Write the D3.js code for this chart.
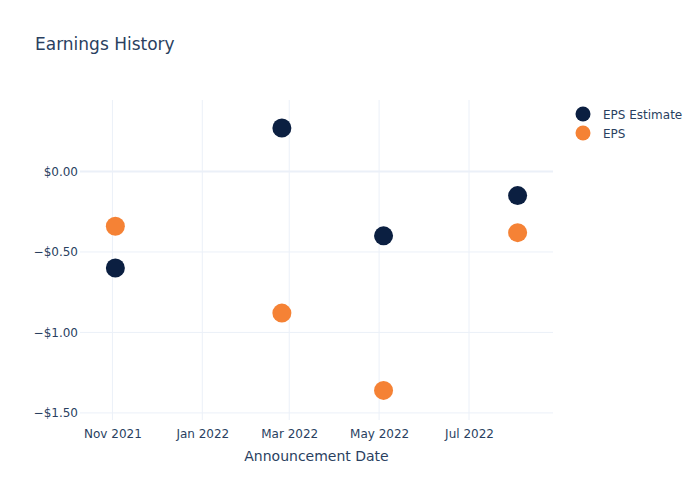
<!DOCTYPE html>
<html>
<head>
<meta charset="utf-8">
<script src="https://cdn.jsdelivr.net/npm/d3@7"></script>
<style>
  body { margin: 0; background: #fff; }
  text { font-family: "DejaVu Sans", "Open Sans", sans-serif; }
</style>
</head>
<body>
<svg id="chart" width="700" height="500"></svg>
<script>
const dates = ["2021-11-03", "2022-02-24", "2022-05-04", "2022-08-03"];
const epsEstimate = [-0.60, 0.27, -0.40, -0.15];
const epsActual = [-0.34, -0.88, -1.36, -0.38];
const seriesNames = ["EPS Estimate", "EPS"];
const seriesColors = ["#0b1f41", "#f58235"];
const xTickDates = ["2021-11-01", "2022-01-01", "2022-03-01", "2022-05-01", "2022-07-01"];
const yTicks = [0, -0.5, -1.0, -1.5];

const parse = d3.timeParse("%Y-%m-%d");
const svg = d3.select("#chart");
const W = 700, H = 500;
const m = { l: 80, r: 147, t: 100, b: 80 };
const pw = W - m.l - m.r, ph = H - m.t - m.b;
const textColor = "#2a3f5f";
const gridColor = "#ebf0f8";

const x = d3.scaleTime()
  .domain([parse("2021-10-10"), parse("2022-08-27")])
  .range([m.l, m.l + pw]);
const y = d3.scaleLinear()
  .domain([-1.544, 0.444])
  .range([m.t + ph, m.t]);

const g = svg.append("g");

// Grid
g.selectAll(".xg").data(xTickDates).enter().append("line")
  .attr("x1", d => x(parse(d))).attr("x2", d => x(parse(d)))
  .attr("y1", m.t).attr("y2", m.t + ph)
  .attr("stroke", gridColor).attr("stroke-width", 1);
g.selectAll(".yg").data(yTicks).enter().append("line")
  .attr("x1", m.l).attr("x2", m.l + pw)
  .attr("y1", d => y(d)).attr("y2", d => y(d))
  .attr("stroke", gridColor).attr("stroke-width", d => d === 0 ? 2 : 1);

// Axes
const fmt = v => (v < 0 ? "\u2212" : "") + "$" + Math.abs(v).toFixed(2);
const yAxis = d3.axisLeft(y).tickValues(yTicks).tickFormat(fmt).tickSize(0).tickPadding(2);
const ya = svg.append("g").attr("transform", `translate(${m.l},0)`).call(yAxis);
ya.select(".domain").remove();
ya.selectAll("text").attr("fill", textColor).style("font-size", "12px");

const xAxis = d3.axisBottom(x).tickValues(xTickDates.map(parse))
  .tickFormat(d3.timeFormat("%b %Y")).tickSize(0).tickPadding(9);
const xa = svg.append("g").attr("transform", `translate(0,${m.t + ph})`).call(xAxis);
xa.select(".domain").remove();
xa.selectAll("text").attr("fill", textColor).style("font-size", "12px");

// Axis title
svg.append("text").attr("x", m.l + pw / 2).attr("y", 461)
  .attr("text-anchor", "middle").attr("fill", textColor)
  .style("font-size", "14px").text("Announcement Date");

// Title
svg.append("text").attr("x", 35).attr("y", 50)
  .attr("fill", textColor).style("font-size", "17px").text("Earnings History");

// Points
const series = [epsEstimate, epsActual];
series.forEach((vals, i) => {
  svg.append("g").selectAll("circle").data(vals).enter().append("circle")
    .attr("cx", (d, j) => x(parse(dates[j])))
    .attr("cy", d => y(d))
    .attr("r", 9.5)
    .attr("fill", seriesColors[i]);
});

// Legend
const lg = svg.append("g").attr("transform", "translate(583,114)");
seriesNames.forEach((name, i) => {
  const row = lg.append("g").attr("transform", `translate(0,${i * 19})`);
  row.append("circle").attr("r", 7.5).attr("fill", seriesColors[i]);
  row.append("text").attr("x", 20).attr("y", 4.5).attr("fill", textColor)
    .style("font-size", "12px").text(name);
});
</script>
</body>
</html>
